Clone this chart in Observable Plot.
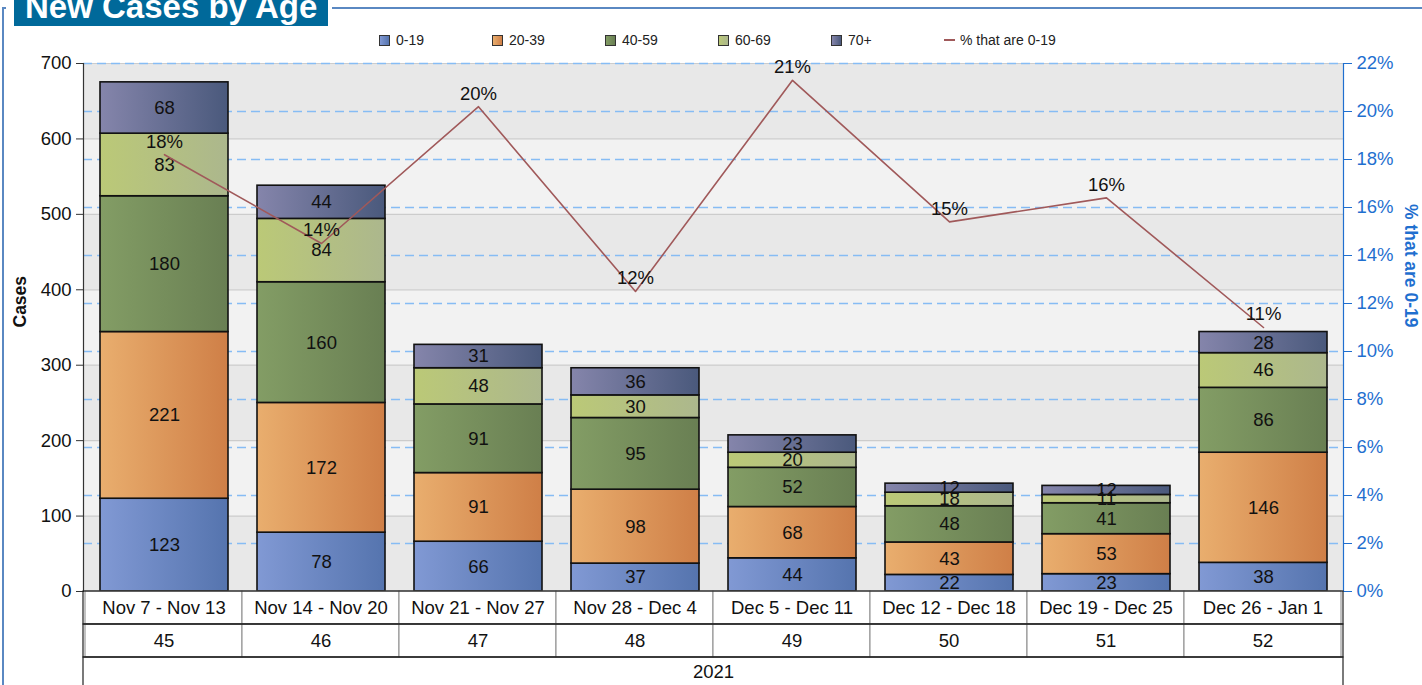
<!DOCTYPE html>
<html>
<head>
<meta charset="utf-8">
<script src="https://cdn.jsdelivr.net/npm/d3@7"></script>
<script src="https://cdn.jsdelivr.net/npm/@observablehq/plot@0.6"></script>
<style>
  html, body { margin: 0; padding: 0; background: #fff; overflow: hidden; }
  body { font-family: "Liberation Sans", Arial, sans-serif; }
  #wrap { position: relative; width: 1422px; height: 685px; overflow: hidden; }
  #frame { position: absolute; left: 2px; top: 7px; width: 1500px; height: 800px;
           border-top: 2px solid #5a88c2; border-left: 2px solid #5a88c2; }
  #titlewrap { position: absolute; left: 6px; top: -13px; background: #fff; padding: 0 4px 0 8px; }
  #title { height: 39px; line-height: 39px; background: #00699a; color: #fff; font-weight: bold;
           font-size: 33px; padding: 0 11px; white-space: nowrap; }
  #legend { position: absolute; left: 379px; top: 33px; display: flex; font-size: 14px; color: #222; }
  .item { width: 113px; display: flex; align-items: center; height: 14px; }
  .sw { width: 9px; height: 9px; border: 1px solid #333; margin-right: 6px; }
  .ln { width: 11px; height: 2px; margin-right: 5px; }
  #main { position: absolute; left: 0; top: 0; }
  #table { position: absolute; left: 0; top: 590px; }
</style>
</head>
<body>
<div id="wrap">
  <div id="frame"></div>
  <div id="main"></div>
  <div id="table"></div>
  <div id="titlewrap"><div id="title">New Cases by Age</div></div>
  <div id="legend"></div>
</div>
<script>
// ---- data ----
const weeks = ["Nov 7 - Nov 13", "Nov 14 - Nov 20", "Nov 21 - Nov 27", "Nov 28 - Dec 4",
               "Dec 5 - Dec 11", "Dec 12 - Dec 18", "Dec 19 - Dec 25", "Dec 26 - Jan 1"];
const weekNumbers = [45, 46, 47, 48, 49, 50, 51, 52];
const yearLabel = "2021";
const ageGroups = ["0-19", "20-39", "40-59", "60-69", "70+"];
const cases0to19  = [123, 78, 66, 37, 44, 22, 23, 38];
const cases20to39 = [221, 172, 91, 98, 68, 43, 53, 146];
const cases40to59 = [180, 160, 91, 95, 52, 48, 41, 86];
const cases60to69 = [83, 84, 48, 30, 20, 18, 11, 46];
const cases70plus = [68, 44, 31, 36, 23, 12, 12, 28];
const pct0to19 = [18.2, 14.5, 20.2, 12.5, 21.3, 15.4, 16.4, 11.0];
const caseTicks = [0, 100, 200, 300, 400, 500, 600, 700];
const pctTicks = [0, 2, 4, 6, 8, 10, 12, 14, 16, 18, 20, 22];
const lineLabel = "% that are 0-19";

// ---- styles ----
const gradColors = [
  ["#8199d4", "#5574ae"],
  ["#e9ae6e", "#cf7f47"],
  ["#839d65", "#697f53"],
  ["#bbc977", "#acb78d"],
  ["#8585ab", "#4a597c"]
];
const lineColor = "#a0595a";
const blue = "#1f6fcf";
const font = "'Liberation Sans', Arial, sans-serif";
const fs = 18.5;

const series = [cases0to19, cases20to39, cases40to59, cases60to69, cases70plus];
const rows = [];
weeks.forEach((w, i) => ageGroups.forEach((a, k) => rows.push({week: w, age: a, k, value: series[k][i]})));
const pctRows = weeks.map((w, i) => ({week: w, pct: pct0to19[i]}));
const yMax = caseTicks[caseTicks.length - 1];
const pMax = pctTicks[pctTicks.length - 1];
const toCases = p => p * yMax / pMax;
const bands = caseTicks.slice(0, -1).map((t, i) => ({y1: t, y2: caseTicks[i + 1], fill: i % 2 === 0 ? "#e8e8e8" : "#f2f2f2"}));

const main = Plot.plot({
  width: 1422, height: 592,
  marginLeft: 83, marginRight: 79, marginTop: 63, marginBottom: 1,
  style: {fontFamily: font, background: "transparent", overflow: "visible"},
  x: {domain: weeks, paddingInner: 0.187, paddingOuter: 0.0935, axis: null},
  y: {domain: [0, yMax], axis: null},
  color: {type: "identity"},
  marks: [
    Plot.rect(bands, {y1: "y1", y2: "y2", fill: "fill"}),
    Plot.ruleY(caseTicks.slice(1), {stroke: "#cccccc", strokeWidth: 1.2}),
    Plot.ruleY(pctTicks.slice(1).map(toCases), {stroke: "#86bcf4", strokeDasharray: "9,5", strokeWidth: 1.5}),
    Plot.barY(rows, {x: "week", y: "value", z: "age", fill: d => `url(#grad${d.k})`, stroke: "#111", strokeWidth: 1.6}),
    Plot.text(rows, Plot.stackY({x: "week", y: "value", z: "age", text: d => String(d.value), fontSize: fs, fill: "#111"})),
    Plot.line(pctRows, {x: "week", y: d => toCases(d.pct), stroke: lineColor, strokeWidth: 1.6}),
    Plot.text(pctRows, {x: "week", y: d => toCases(d.pct), text: d => Math.floor(d.pct) + "%", dy: -13, fontSize: fs, fill: "#111"}),
    Plot.axisY(caseTicks, {anchor: "left", tickSize: 7, tickPadding: 5, fontSize: fs, label: null, stroke: "#333", fill: "#111"}),
    Plot.frame({anchor: "left", stroke: "#333", strokeWidth: 1.2}),
    Plot.axisY(pctTicks.map(toCases), {anchor: "right", tickSize: 8, tickPadding: 5, fontSize: fs, label: null,
      tickFormat: v => Math.round(v * pMax / yMax) + "%", stroke: blue, fill: blue}),
    Plot.frame({anchor: "right", stroke: blue, strokeWidth: 1.2}),
    Plot.text(["Cases"], {frameAnchor: "left", dx: -63, rotate: -90, text: d => d, fontSize: 17.5, fontWeight: "bold", fill: "#111"}),
    Plot.text([lineLabel], {frameAnchor: "right", dx: 67, rotate: 90, text: d => d, fontSize: 17.5, fontWeight: "bold", fill: blue})
  ]
});

// gradients
const ns = "http://www.w3.org/2000/svg";
const defs = document.createElementNS(ns, "defs");
gradColors.forEach((c, k) => {
  const g = document.createElementNS(ns, "linearGradient");
  g.setAttribute("id", "grad" + k);
  g.setAttribute("x1", "0"); g.setAttribute("x2", "1"); g.setAttribute("y1", "0"); g.setAttribute("y2", "0");
  [[0, c[0]], [1, c[1]]].forEach(([o, col]) => {
    const s = document.createElementNS(ns, "stop");
    s.setAttribute("offset", o); s.setAttribute("stop-color", col);
    g.appendChild(s);
  });
  defs.appendChild(g);
});
main.insertBefore(defs, main.firstChild);
document.getElementById("main").appendChild(main);

// table under the axis
const rowKeys = ["label", "num", "year"];
const table = Plot.plot({
  width: 1422, height: 95,
  marginLeft: 83, marginRight: 79, marginTop: 0, marginBottom: 0,
  style: {fontFamily: font, background: "transparent"},
  x: {domain: weeks, padding: 0, axis: null},
  y: {domain: rowKeys, range: [1, 100], padding: 0, axis: null},
  marks: [
    Plot.cell(weeks, {x: d => d, y: () => "label", fill: "white", stroke: "#888"}),
    Plot.cell(weeks, {x: d => d, y: () => "num", fill: "white", stroke: "#888"}),
    Plot.cell(rowKeys, {y: d => d, fill: "none", stroke: "#222", strokeWidth: 1.2}),
    Plot.text(weeks, {x: d => d, y: () => "label", text: d => d, fontSize: fs, fill: "#111"}),
    Plot.text(weeks, {x: d => d, y: () => "num", text: (d, i) => String(weekNumbers[i]), fontSize: fs, fill: "#111"}),
    Plot.text([yearLabel], {y: () => "year", frameAnchor: "middle", text: d => d, fontSize: fs, fill: "#111", dy: -2})
  ]
});
document.getElementById("table").appendChild(table);

// legend
const legend = document.getElementById("legend");
ageGroups.forEach((a, k) => {
  const it = document.createElement("div");
  it.className = "item";
  it.innerHTML = `<span class="sw" style="background:linear-gradient(to right, ${gradColors[k][0]}, ${gradColors[k][1]})"></span><span>${a}</span>`;
  legend.appendChild(it);
});
const li = document.createElement("div");
li.className = "item";
li.style.width = "140px";
li.innerHTML = `<span class="ln" style="background:${lineColor}"></span><span>${lineLabel}</span>`;
legend.appendChild(li);
</script>
</body>
</html>
